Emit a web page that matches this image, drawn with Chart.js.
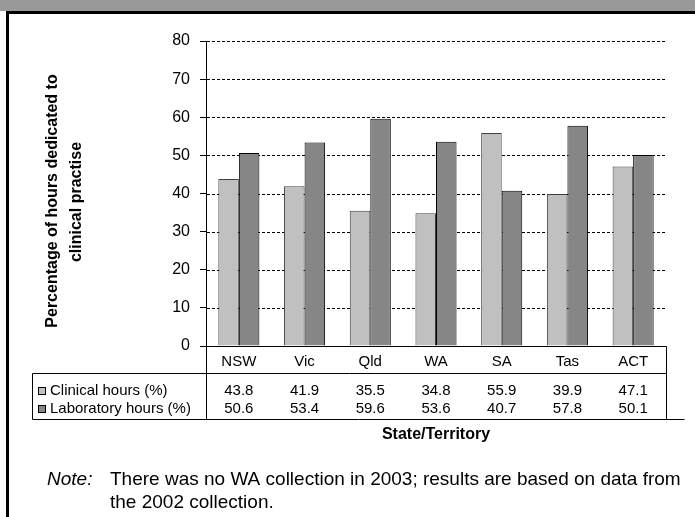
<!DOCTYPE html>
<html><head><meta charset="utf-8">
<script src="https://cdn.jsdelivr.net/npm/chart.js@4.4.0/dist/chart.umd.min.js"></script>
<style>html,body{margin:0;padding:0;background:#fff;overflow:hidden}#wrap{position:relative;width:695px;height:517px}</style>
</head><body><div id="wrap"><canvas id="c" width="695" height="517"></canvas></div>
<script>
const categories = ['NSW','Vic','Qld','WA','SA','Tas','ACT'];
const clinicalHours = [43.8,41.9,35.5,34.8,55.9,39.9,47.1];
const laboratoryHours = [50.6,53.4,59.6,53.6,40.7,57.8,50.1];
const seriesNames = ['Clinical hours (%)','Laboratory hours (%)'];
const yTicks = [0,10,20,30,40,50,60,70,80];
const yTitle = ['Percentage of hours dedicated to','clinical practise'];
const xTitle = 'State/Territory';
const noteLabel = 'Note:';
const noteLines = ['There was no WA collection in 2003; results are based on data from','the 2002 collection.'];

const FONT = "'Liberation Sans', Arial, sans-serif";
const colors = ['#C0C0C0','#868686'];
const borders = ['#404040','#000000'];

const tablePlugin = {
  id: 'tablePlugin',
  beforeDraw(chart){
    const ctx = chart.ctx;
    ctx.save();
    ctx.fillStyle = '#fff'; ctx.fillRect(0,0,chart.width,chart.height);
    ctx.fillStyle = '#999999'; ctx.fillRect(0,0,chart.width,11);
    ctx.fillStyle = '#000'; ctx.fillRect(6,11,chart.width-6,3);
    ctx.fillRect(6,11,3,chart.height-11);
    ctx.restore();
  },
  beforeDatasetsDraw(chart){
    const ctx = chart.ctx, ys = chart.scales.y, a = chart.chartArea;
    ctx.save();
    ctx.strokeStyle = '#000'; ctx.lineWidth = 1; ctx.setLineDash([3,2]);
    yTicks.forEach(v => {
      if (v === 0) return;
      const y = Math.round(ys.getPixelForValue(v)) + 0.5;
      ctx.beginPath(); ctx.moveTo(a.left+1, y); ctx.lineTo(a.right, y); ctx.stroke();
    });
    ctx.restore();
  },
  afterDraw(chart){
    const ctx = chart.ctx, xs = chart.scales.x, a = chart.chartArea;
    const top = Math.round(a.bottom) + 0.5;
    const catBottom = top + 27, tblBottom = top + 73, legLeft = 32.5;
    const L = Math.round(a.left) + 0.5, R = Math.round(a.right) + 0.5;
    ctx.save();
    ctx.strokeStyle = '#000'; ctx.lineWidth = 1; ctx.setLineDash([]);
    ctx.beginPath();
    ctx.moveTo(L-6, top); ctx.lineTo(R, top);
    ctx.moveTo(L, top); ctx.lineTo(L, tblBottom);
    ctx.moveTo(R, top); ctx.lineTo(R, tblBottom);
    ctx.moveTo(legLeft, catBottom); ctx.lineTo(R, catBottom);
    ctx.moveTo(legLeft, tblBottom); ctx.lineTo(R+18, tblBottom);
    ctx.moveTo(legLeft, catBottom); ctx.lineTo(legLeft, tblBottom);
    ctx.stroke();

    ctx.fillStyle = '#000';
    ctx.font = '15px ' + FONT;
    ctx.textAlign = 'center'; ctx.textBaseline = 'middle';
    const rows = [clinicalHours, laboratoryHours];
    const rowY = [top + 44, top + 62];
    categories.forEach((c,i) => {
      const x = xs.getPixelForValue(i);
      ctx.fillText(c, x, top + 15);
      rows.forEach((r,k) => ctx.fillText(r[i].toFixed(1), x, rowY[k]));
    });
    // legend cells
    ctx.textAlign = 'left';
    seriesNames.forEach((n,k) => {
      const y = rowY[k];
      ctx.fillStyle = colors[k];
      ctx.fillRect(38, Math.round(y-4), 8, 8);
      ctx.strokeStyle = '#000';
      ctx.strokeRect(38.5, Math.round(y-4)+0.5, 7, 7);
      ctx.fillStyle = '#000';
      ctx.fillText(n, 50, y);
    });
    // x title
    ctx.textAlign = 'center';
    ctx.font = 'bold 16px ' + FONT;
    ctx.fillText(xTitle, (a.left + a.right)/2, 435);
    // y title
    ctx.save();
    ctx.translate(53, 201); ctx.rotate(-Math.PI/2);
    ctx.fillText(yTitle[0], 0, 0);
    ctx.restore();
    ctx.save();
    ctx.translate(77, 202); ctx.rotate(-Math.PI/2);
    ctx.fillText(yTitle[1], 0, 0);
    ctx.restore();
    // note
    ctx.textAlign = 'left';
    ctx.font = 'italic 19px ' + FONT;
    ctx.fillText(noteLabel, 47, 480);
    ctx.font = '19px ' + FONT;
    ctx.fillText(noteLines[0], 110, 480);
    ctx.fillText(noteLines[1], 110, 503);
    ctx.restore();
  }
};

new Chart(document.getElementById('c'), {
  type: 'bar',
  data: {
    labels: categories,
    datasets: [
      {label: seriesNames[0], data: clinicalHours, backgroundColor: colors[0], borderColor: borders[0], borderWidth: 1, categoryPercentage: 0.625, barPercentage: 1.0},
      {label: seriesNames[1], data: laboratoryHours, backgroundColor: colors[1], borderColor: borders[1], borderWidth: 1, categoryPercentage: 0.625, barPercentage: 1.0}
    ]
  },
  options: {
    responsive: false, animation: false, devicePixelRatio: 1,
    layout: {padding: {left: 0, top: 41, right: 29, bottom: 171}},
    plugins: {legend: {display: false}, tooltip: {enabled: false}, title: {display: false}},
    scales: {
      x: {display: false},
      y: {
        min: 0, max: 80,
        afterFit(s){ s.width = 206; },
        afterBuildTicks(s){ s.ticks = yTicks.map(v => ({value: v})); },
        ticks: {color: '#000', font: {family: FONT, size: 16}, padding: 10},
        grid: {drawOnChartArea: false, drawTicks: true, tickLength: 6, tickColor: '#000', tickWidth: 1},
        border: {display: true, color: '#000', width: 1}
      }
    }
  },
  plugins: [tablePlugin]
});
</script>
</body></html>
